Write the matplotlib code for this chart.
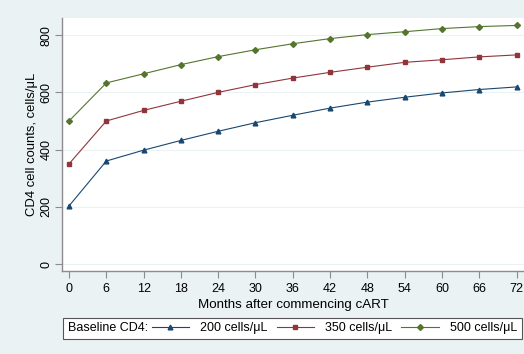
# CD4 trajectories after starting cART, by baseline CD4

import matplotlib
matplotlib.use('Agg')
import matplotlib.pyplot as plt
from matplotlib.offsetbox import HPacker

months = [0, 6, 12, 18, 24, 30, 36, 42, 48, 54, 60, 66, 72]
cd4_200 = [203, 360, 398, 432, 464, 494, 520, 545, 566, 583, 598, 610, 619]
cd4_350 = [350, 500, 537, 569, 600, 627, 650, 670, 688, 705, 714, 724, 731]
cd4_500 = [500, 633, 665, 697, 725, 749, 770, 788, 802, 812, 823, 830, 834]
labels = ['200 cells/μL', '350 cells/μL', '500 cells/μL']
yticks = [0, 200, 400, 600, 800]

plt.rcParams['font.family'] = ['Liberation Sans', 'DejaVu Sans']
fs = 9
bg = '#eaf2f3'
spine = '#8c8c8c'

fig = plt.figure(figsize=(5.24, 3.54), dpi=100, facecolor=bg)
ax = fig.add_axes([62/524, 1 - 270.7/354, 462/524, (270.7 - 18)/354])
ax.set_facecolor('white')

styles = [('#1a476f', '^', 3.4), ('#90353b', 's', 3.0), ('#55752f', 'D', 3.0)]
series = [cd4_200, cd4_350, cd4_500]
handles = []
for vals, (c, m, ms), lab in zip(series, styles, labels):
    h, = ax.plot(months, vals, '-', color=c, lw=0.8, marker=m, ms=ms,
                 mfc=c, mec=c, label=lab)
    handles.append(h)

ax.set_xlim(-1.13, 73.2)
ax.set_ylim(-23.4, 860)
ax.set_xticks(months)
ax.set_yticks(yticks)
ax.set_yticklabels([str(v) for v in yticks], rotation=90, va='center')
ax.yaxis.grid(True, color=bg, lw=0.8)
ax.set_axisbelow(True)
for s in ['top', 'right']:
    ax.spines[s].set_visible(False)
for s in ['left', 'bottom']:
    ax.spines[s].set_color(spine)
    ax.spines[s].set_linewidth(1.0)
ax.tick_params(axis='both', colors=spine, labelcolor='black', labelsize=fs,
               length=5, width=0.8)
ax.tick_params(axis='y', pad=2)
ax.set_xlabel('Months after commencing cART', fontsize=9.6, labelpad=3)
ax.set_ylabel('CD4 cell counts, cells/μL', fontsize=9.4, labelpad=2)

leg = fig.legend(handles=handles, loc='center', bbox_to_anchor=(292.5/524, 1 - 328.3/354),
                 ncol=3, fontsize=fs, title='Baseline CD4:', title_fontsize=fs,
                 frameon=True, fancybox=False, edgecolor='#555555', facecolor='white',
                 framealpha=1, handlelength=3.0, handletextpad=0.9,
                 columnspacing=0.7, borderpad=0.35, borderaxespad=0)
leg.get_frame().set_linewidth(0.8)
# put the legend title on the left of the entries instead of above them
leg._legend_box = HPacker(pad=leg.borderpad * fs, sep=0.3 * fs, align='center',
                          children=[leg._legend_title_box, leg._legend_handle_box])
leg._legend_box.set_figure(fig)
leg._legend_box.axes = leg.axes
leg._legend_box.set_offset(leg._findoffset)

fig.savefig('out.png', dpi=100, facecolor=bg)
